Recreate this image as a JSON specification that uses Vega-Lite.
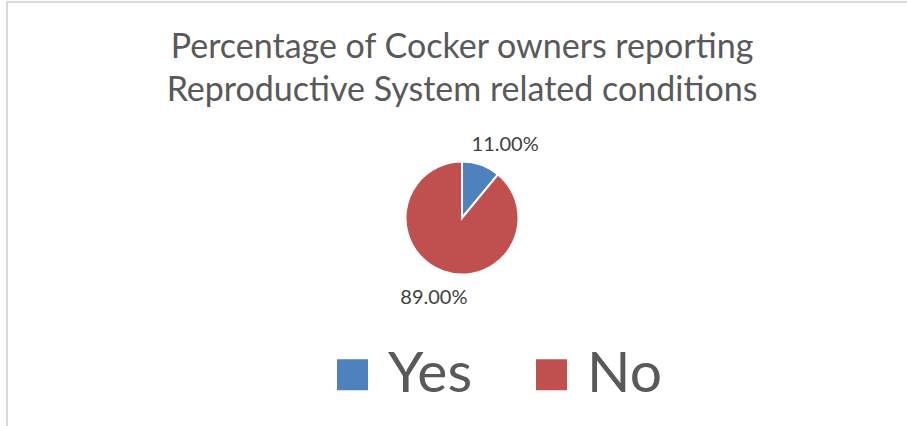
{
  "$schema": "https://vega.github.io/schema/vega-lite/v6.json",
  "width": 910,
  "height": 432,
  "autosize": {"type": "none"},
  "padding": {"left": 7, "top": 2, "right": 0, "bottom": 0},
  "background": "white",
  "view": {"stroke": "#D9D9D9", "strokeWidth": 2, "fill": "white"},
  "config": {"font": "Lato"},
  "title": {
    "text": ["Percentage of Cocker owners reporting", "Reproductive System related conditions"],
    "orient": "top",
    "anchor": "middle",
    "offset": -106,
    "fontSize": 34,
    "font": "Lato",
    "fontWeight": "normal",
    "color": "#595959",
    "lineHeight": 43
  },
  "data": {
    "values": [
      {"category": "Yes", "pct": 0.11, "order": 1},
      {"category": "No", "pct": 0.89, "order": 2}
    ]
  },
  "encoding": {
    "theta": {"field": "pct", "type": "quantitative", "stack": true},
    "order": {"field": "order", "type": "quantitative"}
  },
  "layer": [
    {
      "mark": {"type": "arc", "outerRadius": 56.5, "stroke": "white", "strokeWidth": 2},
      "encoding": {
        "color": {
          "field": "category",
          "type": "nominal",
          "scale": {"domain": ["Yes", "No"], "range": ["#4F81BD", "#C0504D"]},
          "legend": {
            "title": null,
            "orient": "none",
            "legendX": 317,
            "legendY": 344,
            "direction": "horizontal",
            "symbolType": "square",
            "symbolSize": 961,
            "symbolStrokeWidth": 0,
            "symbolOpacity": 1,
            "labelFontSize": 57,
            "labelFont": "Lato",
            "labelColor": "#595959",
            "labelOffset": 7,
            "columnPadding": 50,
            "padding": 0
          }
        }
      }
    },
    {
      "mark": {"type": "text", "radius": 86, "fontSize": 20, "font": "Lato", "color": "#404040", "dx": 14, "dy": 8},
      "encoding": {
        "text": {"condition": {"test": "datum.category === 'Yes'", "field": "pct", "format": ".2%"}, "value": ""}
      }
    },
    {
      "mark": {"type": "text", "radius": 86, "fontSize": 20, "font": "Lato", "color": "#404040", "dx": 1, "dy": -1},
      "encoding": {
        "text": {"condition": {"test": "datum.category === 'No'", "field": "pct", "format": ".2%"}, "value": ""}
      }
    }
  ]
}
